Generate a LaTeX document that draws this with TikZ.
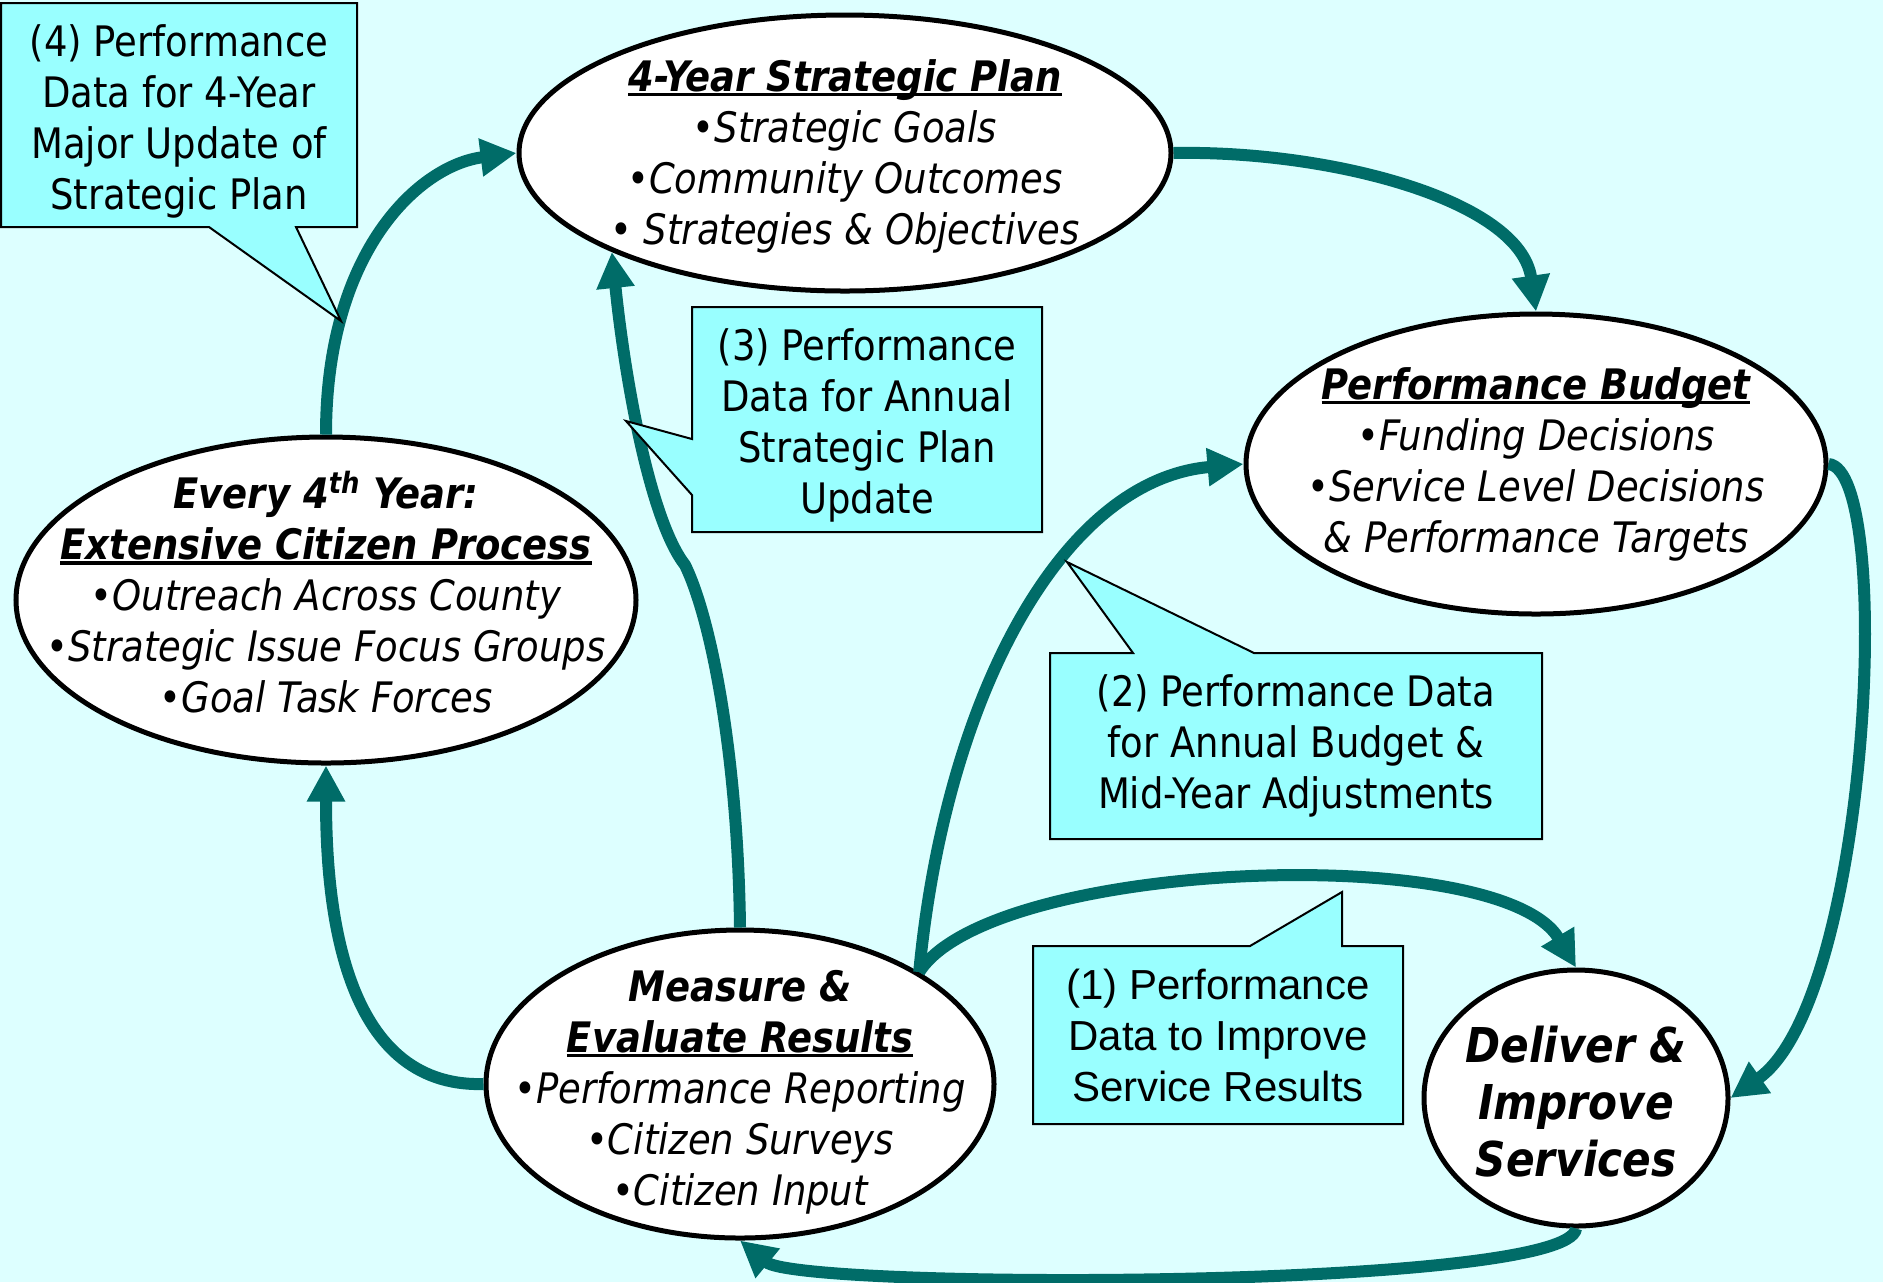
\documentclass[tikz,border=0pt]{standalone}
\usepackage{fontspec}
\setmainfont{DejaVu Sans}[FakeStretch=0.88]
\newfontfamily\arialfont{Liberation Sans}
\usetikzlibrary{arrows.meta,shapes.geometric}
\definecolor{bgcyan}{RGB}{221,255,255}
\definecolor{notecyan}{RGB}{153,255,255}
\definecolor{flowteal}{RGB}{0,108,104}
\newcommand\ulhead[1]{\setbox0\hbox{#1}\rlap{\rule[-2.6pt]{\wd0}{1.6pt}}\box0}
\begin{document}
\begin{tikzpicture}[x=0.5pt,y=-0.5pt,
  bubble/.style={ellipse,draw=black,fill=white,line width=2.5pt,inner sep=0pt},
  bubbletext/.style={align=center,inner sep=0pt,font=\fontsize{21}{25.5}\selectfont\itshape},
  flow/.style={draw=flowteal,line width=6pt,-{Triangle[length=18pt,width=18pt]}},
  callout/.style={fill=notecyan,draw=black,line width=1pt},
  calltext/.style={align=center,inner sep=0pt,font=\fontsize{21}{25.5}\selectfont}]
\path[use as bounding box,fill=bgcyan] (0,0) rectangle (1883,1282);
% the five stages
\node[bubble,minimum width=326pt,minimum height=138pt] (plan) at (845,153) {};
\node[bubble,minimum width=290pt,minimum height=150pt] (budget) at (1536,464) {};
\node[bubble,minimum width=310pt,minimum height=163pt] (citizen) at (326,600) {};
\node[bubble,minimum width=254pt,minimum height=154pt] (measure) at (740,1084) {};
\node[bubble,minimum width=152pt,minimum height=128pt] (deliver) at (1576,1098) {};
\node[bubbletext,yshift=-1.5pt] (plantext) at (plan) {\ulhead{\textbf{4-Year Strategic Plan}}\\•Strategic Goals\\•Community Outcomes\\• Strategies \& Objectives};
\node[bubbletext] (budgettext) at (budget) {\ulhead{\textbf{Performance Budget}}\\•Funding Decisions\\•Service Level Decisions\\\& Performance Targets};
\node[bubbletext,yshift=4pt] (citizentext) at (citizen) {\textbf{Every 4\textsuperscript{th} Year:}\\\ulhead{\textbf{Extensive Citizen Process}}\\•Outreach Across County\\•Strategic Issue Focus Groups\\•Goal Task Forces};
\node[bubbletext,yshift=-4pt] (measuretext) at (measure) {\textbf{Measure \&}\\\ulhead{\textbf{Evaluate Results}}\\•Performance Reporting\\•Citizen Surveys\\•Citizen Input};
\node[bubbletext,yshift=-2pt,font=\fontsize{24}{28.5}\selectfont\bfseries\itshape] (delivertext) at (deliver) {Deliver \&\\Improve\\Services};
% cycle arrows
\coordinate (bend) at (685,565);
\draw[flow] (citizen.north) .. controls (326,250) and (420,165) .. (plan.west);
\draw[flow] (plan.east) .. controls (1330,150) and (1520,200) .. (budget.north);
\draw[flow] (budget.east) .. controls (1895,470) and (1870,1000) .. (deliver.east);
\draw[flow] (deliver.south) .. controls (1570,1290) and (800,1290) .. (measure.south);
\draw[flow] (measure.west) .. controls (340,1088) and (326,900) .. (citizen.south);
\draw[flow] (measure.north) .. controls (738,760) and (712,620) .. (bend) .. controls (650,520) and (625,380) .. (plan.203);
\draw[flow] (measure.32) .. controls (945,700) and (1060,480) .. (budget.west);
\draw[flow] (measure.32) .. controls (990,860) and (1500,840) .. (deliver.north);
% callouts
\filldraw[callout] (1,3) -- (357,3) -- (357,227) -- (296,227) -- (341,321) -- (209,227) -- (1,227) -- cycle;
\node[calltext] (note4) at (179,121) {(4) Performance\\Data for 4-Year\\Major Update of\\Strategic Plan};
\filldraw[callout] (692,307) -- (1042,307) -- (1042,532) -- (692,532) -- (692,495) -- (626,421) -- (692,439) -- cycle;
\node[calltext] (note3) at (867,425) {(3) Performance\\Data for Annual\\Strategic Plan\\Update};
\filldraw[callout] (1050,653) -- (1133,653) -- (1067,562) -- (1254,653) -- (1542,653) -- (1542,839) -- (1050,839) -- cycle;
\node[calltext] (note2) at (1296,746) {(2) Performance Data\\for Annual Budget \&\\Mid-Year Adjustments};
\filldraw[callout] (1033,946) -- (1250,946) -- (1342,892) -- (1342,946) -- (1403,946) -- (1403,1124) -- (1033,1124) -- cycle;
\node[calltext,font=\fontsize{21}{25.5}\selectfont\arialfont] (note1) at (1218,1035) {(1) Performance\\Data to Improve\\Service Results};
\end{tikzpicture}
\end{document}
